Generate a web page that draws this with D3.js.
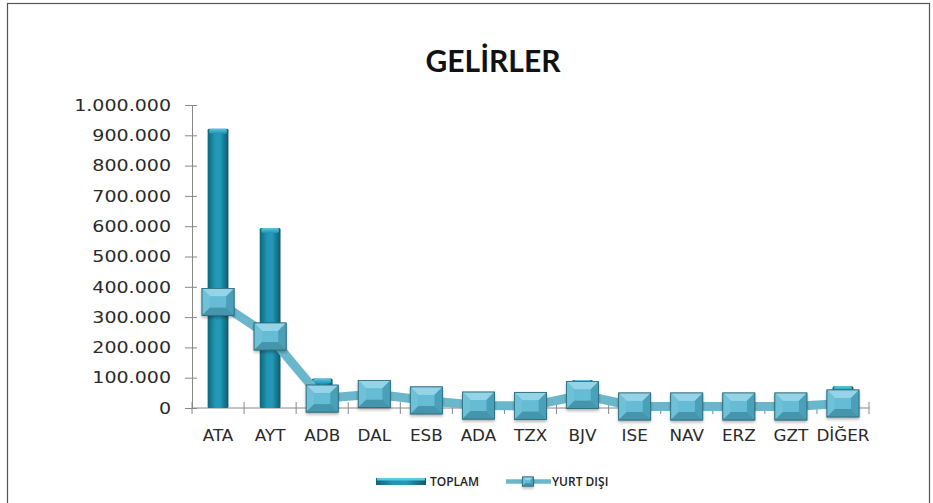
<!DOCTYPE html>
<html>
<head>
<meta charset="utf-8">
<script src="https://cdn.jsdelivr.net/npm/d3@7"></script>
<style>
  html, body { margin: 0; padding: 0; background: #fff; }
  svg { display: block; }
</style>
</head>
<body>
<svg id="chart" width="933" height="503"></svg>
<script>
const categories = ["ATA","AYT","ADB","DAL","ESB","ADA","TZX","BJV","ISE","NAV","ERZ","GZT","DİĞER"];
const toplam     = [922000, 594000, 97000, 55000, 35000, 12000, 10000, 92000, 6000, 6000, 7000, 6000, 72000];
const yurtDisi   = [350000, 236000, 31000, 46000, 25000, 8000, 7000, 43000, 5000, 5000, 5000, 5000, 15000];
const yTicks     = [0,100000,200000,300000,400000,500000,600000,700000,800000,900000,1000000];
const titleText  = "GELİRLER";
const seriesNames = ["TOPLAM", "YURT DIŞI"];

const svg = d3.select("#chart");
const defs = svg.append("defs");

// gradients
const barGrad = defs.append("linearGradient").attr("id","barGrad").attr("x1","0").attr("x2","1").attr("y1","0").attr("y2","0");
barGrad.append("stop").attr("offset","0%").attr("stop-color","#0e6479");
barGrad.append("stop").attr("offset","35%").attr("stop-color","#2196b4");
barGrad.append("stop").attr("offset","60%").attr("stop-color","#239ab8");
barGrad.append("stop").attr("offset","100%").attr("stop-color","#0c5a6e");
const capGrad = defs.append("linearGradient").attr("id","capGrad").attr("x1","0").attr("x2","0").attr("y1","0").attr("y2","1");
capGrad.append("stop").attr("offset","0%").attr("stop-color","#5cc7e0");
capGrad.append("stop").attr("offset","100%").attr("stop-color","#1f93b1");
const shadow = defs.append("filter").attr("id","shadow").attr("x","-30%").attr("y","-30%").attr("width","160%").attr("height","180%");
shadow.append("feDropShadow").attr("dx",0).attr("dy",2).attr("stdDeviation",1.6).attr("flood-color","#000").attr("flood-opacity",0.3);

// frame
svg.append("rect").attr("x",7.5).attr("y",3.5).attr("width",922).attr("height",520)
  .attr("fill","none").attr("stroke","#555").attr("stroke-width",1.2);

// title
svg.append("text").attr("x",493).attr("y",72).attr("text-anchor","middle")
  .attr("font-family","Lato, 'Open Sans', sans-serif").attr("font-weight","bold")
  .attr("font-size",30).attr("fill","#111").text(titleText);

const x = d3.scaleBand().domain(categories).range([192,869]).paddingInner(0.6).paddingOuter(0.3);
const y = d3.scaleLinear().domain([0,1000000]).range([408,105]);
const loc = d3.formatLocale({decimal:",", thousands:".", grouping:[3], currency:["",""]});
const fmt = loc.format(",d");

// Y axis
const sx = 1.27;
const yAxis = svg.append("g").attr("transform","translate(192,0)")
  .call(d3.axisLeft(y).tickValues(yTicks).tickFormat(fmt).tickSizeInner(7).tickSizeOuter(0).tickPadding(14));
yAxis.select(".domain").attr("stroke","#888");
yAxis.selectAll(".tick line").attr("stroke","#888").attr("x2",5).attr("x1",-7);
yAxis.selectAll(".tick text").attr("font-family","'DejaVu Sans', Verdana, sans-serif").attr("font-size",15)
  .attr("fill","#2a2a2a").attr("dy","0.35em")
  .attr("transform", function(){ const xx = +d3.select(this).attr("x"); return `translate(${-xx*(sx-1)},0) scale(${sx},1)`; });

// X axis
const xAxisG = svg.append("g").attr("transform",`translate(0,${y(0)})`);
xAxisG.append("line").attr("x1",192).attr("x2",869).attr("stroke","#888");
const step = x.step();
const bounds = d3.range(categories.length+1).map(i => 192 + i*step);
xAxisG.selectAll("line.tk").data(bounds).join("line").attr("class","tk")
  .attr("x1",d=>d).attr("x2",d=>d).attr("y1",-6).attr("y2",6).attr("stroke","#888");
xAxisG.selectAll("text").data(categories).join("text")
  .attr("transform", d => `translate(${x(d)+x.bandwidth()/2},33) scale(1.12,1)`)
  .attr("text-anchor","middle").attr("font-family","'DejaVu Sans', Verdana, sans-serif")
  .attr("font-size",15).attr("fill","#2a2a2a").text(d=>d);

// Bars
const barG = svg.append("g");
const bw = x.bandwidth();
categories.forEach((c,i) => {
  const g = barG.append("g");
  const top = y(toplam[i]);
  g.append("rect").attr("x",x(c)).attr("y",top).attr("width",bw).attr("height",y(0)-top)
    .attr("fill","url(#barGrad)").attr("rx",1.5);
  g.append("rect").attr("x",x(c)+1.5).attr("y",top).attr("width",bw-3).attr("height",Math.min(5, y(0)-top))
    .attr("fill","url(#capGrad)").attr("rx",2);
});

// Line
const cx = c => x(c) + bw/2;
const line = d3.line().x((d,i)=>cx(categories[i])).y(d=>y(d));
svg.append("path").datum(yurtDisi).attr("d",line).attr("fill","none")
  .attr("stroke","#6ab7cc").attr("stroke-width",9).attr("stroke-linejoin","round");

// Markers
function drawMarker(g, w, h, b) {
  const hw = w/2, hh = h/2;
  g.append("rect").attr("x",-hw).attr("y",-hh).attr("width",w).attr("height",h)
    .attr("fill","#5ab3cd").attr("stroke","#2b6475").attr("stroke-width",0.8).attr("filter","url(#shadow)");
  const poly = (pts, fill) => g.append("polygon").attr("points", pts.map(p=>p.join(",")).join(" ")).attr("fill",fill);
  poly([[-hw,-hh],[hw,-hh],[hw-b,-hh+b],[-hw+b,-hh+b]], "#95d3e6");
  poly([[-hw,-hh],[-hw+b,-hh+b],[-hw+b,hh-b],[-hw,hh]], "#6fc1d8");
  poly([[hw,-hh],[hw,hh],[hw-b,hh-b],[hw-b,-hh+b]], "#4aa0b9");
  poly([[-hw,hh],[hw,hh],[hw-b,hh-b],[-hw+b,hh-b]], "#4595ad");
  g.append("rect").attr("x",-hw+b).attr("y",-hh+b).attr("width",w-2*b).attr("height",h-2*b).attr("fill","#66bcd5");
  g.append("rect").attr("x",-hw).attr("y",-hh).attr("width",w).attr("height",h)
    .attr("fill","none").attr("stroke","#2f6c7e").attr("stroke-width",0.8);
}
const mG = svg.append("g");
yurtDisi.forEach((v,i) => {
  const g = mG.append("g").attr("transform",`translate(${cx(categories[i])},${y(v)})`);
  drawMarker(g, 32, 27, 8);
});

// Legend
const lg = svg.append("g");
lg.append("rect").attr("x",376).attr("y",478).attr("width",50).attr("height",7).attr("fill","url(#barGrad)");
lg.append("rect").attr("x",377).attr("y",478).attr("width",48).attr("height",2.5).attr("fill","#5cc7e0");
lg.append("text").attr("x",430).attr("y",486).attr("font-family","'Open Sans', sans-serif").attr("font-size",12)
  .attr("font-weight","600").attr("fill","#222").text(seriesNames[0]);
lg.append("line").attr("x1",506).attr("x2",551).attr("y1",481.5).attr("y2",481.5).attr("stroke","#6ab7cc").attr("stroke-width",4.5);
const lm = lg.append("g").attr("transform","translate(528,481.5)");
drawMarker(lm, 11, 9, 3);
lg.append("text").attr("x",552).attr("y",486).attr("font-family","'Open Sans', sans-serif").attr("font-size",12)
  .attr("font-weight","600").attr("fill","#222").text(seriesNames[1]);
</script>
</body>
</html>
